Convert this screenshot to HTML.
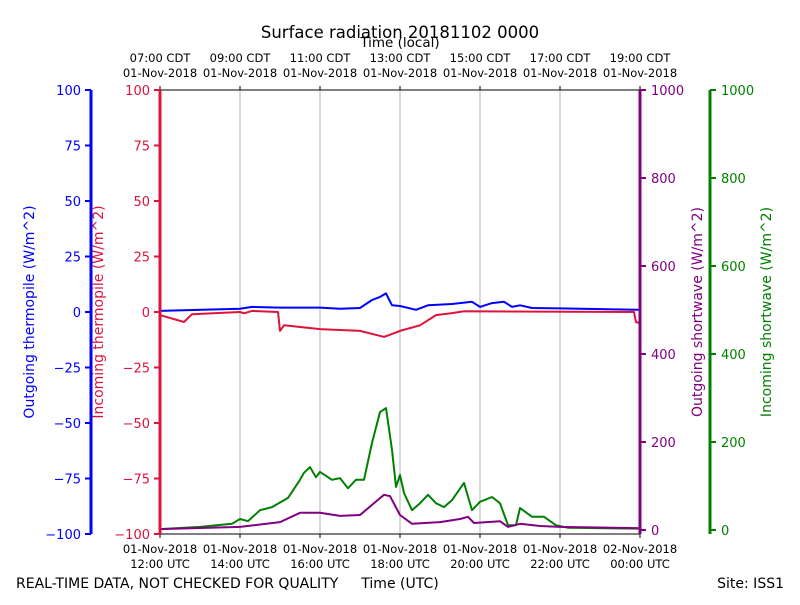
<!DOCTYPE html>
<html><head><meta charset="utf-8"><style>
body{margin:0;background:#fff;}
svg{font-family:"DejaVu Sans","Liberation Sans",sans-serif;}
</style></head><body>
<svg id="chart" width="800" height="600" viewBox="0 0 800 600" xmlns="http://www.w3.org/2000/svg">
<text x="400" y="38" font-size="16.5" text-anchor="middle">Surface radiation 20181102 0000</text>
<text x="400" y="47" font-size="13.5" text-anchor="middle">Time (local)</text>
<g id="grid"></g><g id="series"></g><g id="axes"></g>
<text x="16" y="588" font-size="14">REAL-TIME DATA, NOT CHECKED FOR QUALITY</text>
<text x="400" y="588" font-size="14" text-anchor="middle">Time (UTC)</text>
<text x="784" y="588" font-size="14" text-anchor="end">Site: ISS1</text>
</svg>
<script>
const localTicks=["07:00 CDT","09:00 CDT","11:00 CDT","13:00 CDT","15:00 CDT","17:00 CDT","19:00 CDT"];
const localDates=["01-Nov-2018","01-Nov-2018","01-Nov-2018","01-Nov-2018","01-Nov-2018","01-Nov-2018","01-Nov-2018"];
const utcTicks=["12:00 UTC","14:00 UTC","16:00 UTC","18:00 UTC","20:00 UTC","22:00 UTC","00:00 UTC"];
const utcDates=["01-Nov-2018","01-Nov-2018","01-Nov-2018","01-Nov-2018","01-Nov-2018","01-Nov-2018","02-Nov-2018"];
const tickHours=[0,2,4,6,8,10,12];
const leftTicks=[100,75,50,25,0,-25,-50,-75,-100];
const rightTicks=[0,200,400,600,800,1000];
// hours since 12:00 UTC
const greenT=[0,1,1.8,2,2.2,2.5,2.8,3.2,3.5,3.6,3.75,3.9,4.0,4.3,4.5,4.7,4.9,5.1,5.3,5.5,5.65,5.8,5.9,6.0,6.1,6.3,6.5,6.7,6.9,7.1,7.3,7.6,7.8,8.0,8.3,8.5,8.7,8.9,9.0,9.3,9.6,9.9,10.2,12];
const greenV=[2,7,14,25,20,45,52,73,114,130,143,120,132,114,118,95,114,114,198,268,277,182,98,125,84,45,61,80,61,52,68,107,45,64,75,61,11,11,50,30,30,11,5,3];
const purpleT=[0,2,3,3.5,4,4.5,5,5.3,5.6,5.75,6,6.3,7,7.5,7.7,7.85,8.5,8.7,9.0,9.5,10,12];
const purpleV=[2,7,18,39,39,32,34,57,80,77,34,14,18,25,30,16,20,7,14,9,7,4];
const blueT=[0,2,2.3,3,4,4.5,5,5.3,5.5,5.65,5.8,6,6.4,6.7,7.3,7.8,8.0,8.3,8.6,8.8,9.0,9.3,10,12];
const blueV=[0.5,1.5,2.3,2,2,1.5,1.8,5.4,6.8,8.4,3,2.7,1,3,3.6,4.6,2.3,4,4.6,2.3,3,1.8,1.6,1];
const redT=[0,0.6,0.8,2,2.1,2.3,2.95,3.0,3.1,4,5,5.6,6,6.5,6.9,7.3,7.6,11.85,11.9,12];
const redV=[-1.4,-4.5,-1,0,-0.6,0.5,0,-8.5,-6,-7.7,-8.5,-11.2,-8.5,-6,-1.4,-0.5,0.3,0,-4.5,-5];
const X=h=>160+h*40;
const YL=v=>312-v*2.22;
const YR=v=>530-v*0.44;
const NS="http://www.w3.org/2000/svg";
function mk(tag,attrs,parent,txt){const e=document.createElementNS(NS,tag);for(const k in attrs)e.setAttribute(k,attrs[k]);if(txt!==undefined)e.textContent=txt;parent.appendChild(e);return e;}
const grid=document.getElementById('grid'),series=document.getElementById('series'),axes=document.getElementById('axes');
tickHours.forEach((h,i)=>{
 if(i>0&&i<tickHours.length-1){const g=mk('line',{x1:X(h),x2:X(h),y1:90,y2:534,stroke:'#b0b0b0','stroke-width':1},grid);
 
 }
 mk('line',{x1:X(h),x2:X(h),y1:534,y2:538,stroke:'#000'},axes);
 mk('line',{x1:X(h),x2:X(h),y1:86,y2:90,stroke:'#000'},axes);
 const t1=mk('text',{x:X(h),y:553,'font-size':11.5,'text-anchor':'middle'},axes,utcDates[i]);
 
 
 const t2=mk('text',{x:X(h),y:568,'font-size':11.5,'text-anchor':'middle'},axes,utcTicks[i]);
 
 
 const t3=mk('text',{x:X(h),y:62,'font-size':11.5,'text-anchor':'middle'},axes,localTicks[i]);
 
 
 const t4=mk('text',{x:X(h),y:77,'font-size':11.5,'text-anchor':'middle'},axes,localDates[i]);
 
 
});
function line(T,V,yf,color,name){const d=T.map((t,i)=>(i?'L':'M')+X(t).toFixed(1)+','+yf(V[i]).toFixed(1)).join('');
 const p=mk('path',{d:d,fill:'none',stroke:color,'stroke-width':2,'stroke-linejoin':'round'},series);
 
 }
line(greenT,greenV,YR,'#008000','incoming-shortwave-line');
line(purpleT,purpleV,YR,'#800080','outgoing-shortwave-line');
line(redT,redV,YL,'#dc143c','incoming-thermopile-line');
line(blueT,blueV,YL,'#0000ff','outgoing-thermopile-line');
mk('line',{x1:160,x2:640,y1:90,y2:90,stroke:'#000'},axes);
mk('line',{x1:160,x2:640,y1:534,y2:534,stroke:'#000'},axes);
mk('line',{x1:91,x2:91,y1:90,y2:534,stroke:'#0000ff','stroke-width':3},axes);
mk('line',{x1:160,x2:160,y1:90,y2:534,stroke:'#dc143c','stroke-width':3},axes);
mk('line',{x1:640,x2:640,y1:90,y2:534,stroke:'#800080','stroke-width':3},axes);
mk('line',{x1:710,x2:710,y1:90,y2:534,stroke:'#008000','stroke-width':3},axes);
leftTicks.forEach(v=>{
 mk('line',{x1:85,x2:91,y1:YL(v),y2:YL(v),stroke:'#0000ff','stroke-width':2},axes);
 const a=mk('text',{x:81,y:YL(v)+5,'font-size':13,'text-anchor':'end',fill:'#0000ff'},axes,v<0?'\u2212'+(-v):v);
 
 
 mk('line',{x1:154,x2:160,y1:YL(v),y2:YL(v),stroke:'#dc143c','stroke-width':2},axes);
 const b=mk('text',{x:150,y:YL(v)+5,'font-size':13,'text-anchor':'end',fill:'#dc143c'},axes,v<0?'\u2212'+(-v):v);
 
 
});
rightTicks.forEach(v=>{
 mk('line',{x1:640,x2:646,y1:YR(v),y2:YR(v),stroke:'#800080','stroke-width':2},axes);
 const a=mk('text',{x:651,y:YR(v)+5,'font-size':13,fill:'#800080'},axes,v);
 
 
 mk('line',{x1:710,x2:716,y1:YR(v),y2:YR(v),stroke:'#008000','stroke-width':2},axes);
 const b=mk('text',{x:721,y:YR(v)+5,'font-size':13,fill:'#008000'},axes,v);
 
 
});
function ylab(x,txt,color,name){const t=mk('text',{x:0,y:0,'font-size':14,'text-anchor':'middle',fill:color,transform:`translate(${x},312) rotate(-90)`},axes,txt);
 
 }
ylab(34,'Outgoing thermopile (W/m^2)','#0000ff','blue-y-axis-title');
ylab(103,'Incoming thermopile (W/m^2)','#dc143c','red-y-axis-title');
ylab(702,'Outgoing shortwave (W/m^2)','#800080','purple-y-axis-title');
ylab(771,'Incoming shortwave (W/m^2)','#008000','green-y-axis-title');
</script>
</body></html>
